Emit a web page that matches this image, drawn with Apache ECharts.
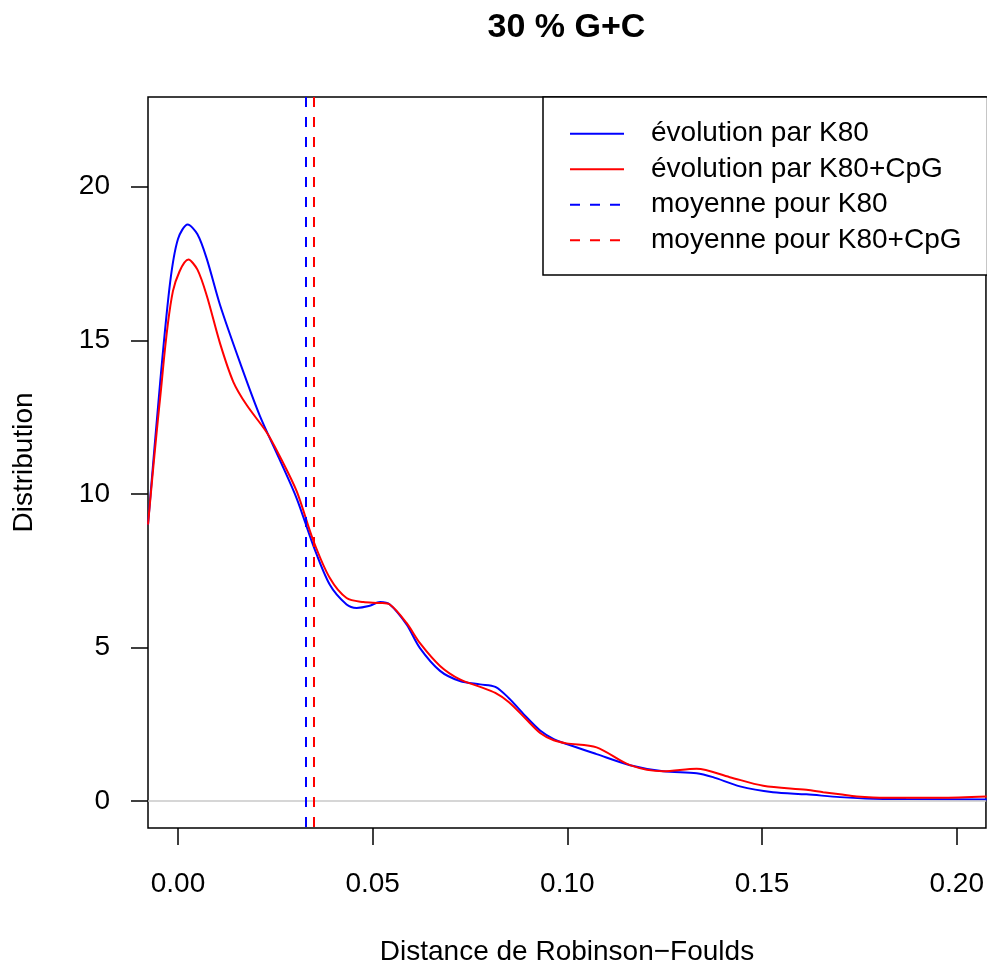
<!DOCTYPE html>
<html>
<head>
<meta charset="utf-8">
<script src="https://cdn.jsdelivr.net/npm/echarts@6/dist/echarts.min.js"></script>
<style>
  html, body { margin: 0; padding: 0; background: #fff; overflow: hidden; }
  #chart { width: 987px; height: 971px; }
</style>
</head>
<body>
<div id="chart"></div>
<script>
// densité - K80
var xK80 = [-0.0077, -0.0046, -0.002, 0.0, 0.0025, 0.005, 0.0074, 0.0108, 0.016, 0.021, 0.026, 0.0305, 0.0348,
            0.039, 0.0433, 0.0459, 0.049, 0.0519, 0.0544, 0.0587, 0.0621, 0.0673, 0.0724, 0.0776, 0.0815,
            0.085, 0.089, 0.093, 0.0965, 0.0998, 0.1075, 0.1161, 0.1246, 0.1332, 0.1374, 0.1443, 0.1528, 0.1614,
            0.17, 0.1785, 0.187, 0.2077];
var yK80 = [9.0, 13.6, 16.9, 18.3, 18.77, 18.45, 17.65, 16.15, 14.25, 12.55, 11.15, 9.85, 8.3,
            7.04, 6.4, 6.29, 6.35, 6.48, 6.4, 5.75, 4.99, 4.24, 3.91, 3.80, 3.72,
            3.35, 2.80, 2.30, 2.02, 1.86, 1.53, 1.17, 0.97, 0.91, 0.78, 0.48, 0.29, 0.22,
            0.13, 0.075, 0.065, 0.055];
// K80+CpG
var xCpG = [-0.0077, -0.0046, -0.0013, 0.0027, 0.005, 0.0074, 0.0108, 0.0142, 0.0176, 0.0228, 0.026, 0.0305, 0.0347,
            0.039, 0.0433, 0.0476, 0.0519, 0.0544, 0.0587, 0.0621, 0.0673, 0.0724, 0.0776, 0.0815,
            0.085, 0.089, 0.093, 0.0965, 0.0998, 0.1075, 0.1161, 0.1246, 0.1332, 0.1417, 0.1503, 0.1614,
            0.1657, 0.17, 0.1743, 0.1785, 0.187, 0.1957, 0.2077];
var yCpG = [9.0, 13.1, 16.6, 17.63, 17.3, 16.45, 14.9, 13.65, 12.9, 12.0, 11.26, 10.08, 8.5,
            7.26, 6.61, 6.48, 6.45, 6.4, 5.8, 5.15, 4.4, 3.96, 3.72, 3.52,
            3.22, 2.72, 2.22, 1.98, 1.88, 1.75, 1.17, 0.97, 1.05, 0.78, 0.5, 0.37,
            0.29, 0.22, 0.15, 0.12, 0.11, 0.11, 0.15];
// moyennes
var meanK80 = 0.0329;
var meanCpG = 0.0349;

var xTicks = [0, 0.05, 0.10, 0.15, 0.20];
var yTicks = [0, 5, 10, 15, 20];
var xMin = -0.0077, xMax = 0.2075;
var yMin = -0.875, yMax = 22.92;

var names = ['évolution par K80', 'évolution par K80+CpG', 'moyenne pour K80', 'moyenne pour K80+CpG'];

function pairs(xs, ys) {
  var out = [];
  for (var i = 0; i < xs.length; i++) out.push([xs[i], ys[i]]);
  return out;
}

var font = 'Liberation Sans, Arial, sans-serif';
var myChart = echarts.init(document.getElementById('chart'));

var option = {
  backgroundColor: '#fff',
  animation: false,
  title: {
    text: '30 % G+C',
    left: 561.5,
    textAlign: 'center',
    top: 6,
    textStyle: { fontFamily: font, fontSize: 34, fontWeight: 'bold', color: '#000' }
  },
  legend: {
    data: names,
    orient: 'vertical',
    left: 543,
    top: 97,
    padding: [19, 26, 17, 26],
    itemGap: 0,
    itemWidth: 54,
    itemHeight: 14,
    selectedMode: false,
    backgroundColor: '#fff',
    borderColor: '#000',
    borderWidth: 1.5,
    itemStyle: { opacity: 0 },
    textStyle: { fontFamily: font, fontSize: 28, color: '#000', lineHeight: 35.5, padding: [0, 0, 0, 22] }
  },
  grid: {
    left: 148, right: 1, top: 97, bottom: 140,
    show: true, borderColor: '#000', borderWidth: 1.5
  },
  xAxis: {
    type: 'value',
    min: xMin, max: xMax,
    name: 'Distance de Robinson−Foulds',
    nameLocation: 'middle',
    nameGap: 110,
    nameTextStyle: { fontFamily: font, fontSize: 28, color: '#000' },
    axisLine: { show: false, onZero: false },
    splitLine: { show: false },
    axisTick: { show: true, customValues: xTicks, length: 17, lineStyle: { color: '#000', width: 1.5 } },
    axisLabel: {
      customValues: xTicks, margin: 42,
      fontFamily: font, fontSize: 28, color: '#000',
      formatter: function (v) { return v.toFixed(2); }
    }
  },
  yAxis: {
    type: 'value',
    min: yMin, max: yMax,
    name: 'Distribution',
    nameLocation: 'middle',
    nameGap: 110,
    nameTextStyle: { fontFamily: font, fontSize: 28, color: '#000' },
    axisLine: { show: false, onZero: false },
    splitLine: { show: false },
    axisTick: { show: true, customValues: yTicks, length: 17, lineStyle: { color: '#000', width: 1.5 } },
    axisLabel: {
      customValues: yTicks, margin: 38,
      fontFamily: font, fontSize: 28, color: '#000'
    }
  },
  series: [
    {
      name: names[0], type: 'line', data: pairs(xK80, yK80),
      smooth: 0.3, symbol: 'none',
      lineStyle: { color: '#0000ff', width: 2 }, itemStyle: { color: '#0000ff' },
      markLine: {
        silent: true, symbol: ['none', 'none'], label: { show: false },
        lineStyle: { color: '#c8c8c8', width: 1.5, type: 'solid' },
        data: [{ yAxis: 0 }]
      }
    },
    {
      name: names[1], type: 'line', data: pairs(xCpG, yCpG),
      smooth: 0.3, symbol: 'none',
      lineStyle: { color: '#ff0000', width: 2 }, itemStyle: { color: '#ff0000' }
    },
    {
      name: names[2], type: 'line', data: [], symbol: 'none',
      lineStyle: { color: '#0000ff', width: 2, type: [10, 10] }, itemStyle: { color: '#0000ff' },
      markLine: {
        silent: true, symbol: ['none', 'none'], label: { show: false },
        lineStyle: { color: '#0000ff', width: 2, type: [10, 10] },
        data: [[{ coord: [meanK80, yMax] }, { coord: [meanK80, yMin] }]]
      }
    },
    {
      name: names[3], type: 'line', data: [], symbol: 'none',
      lineStyle: { color: '#ff0000', width: 2, type: [10, 10] }, itemStyle: { color: '#ff0000' },
      markLine: {
        silent: true, symbol: ['none', 'none'], label: { show: false },
        lineStyle: { color: '#ff0000', width: 2, type: [10, 10] },
        data: [[{ coord: [meanCpG, yMax] }, { coord: [meanCpG, yMin] }]]
      }
    }
  ]
};

myChart.setOption(option);
</script>
</body>
</html>
